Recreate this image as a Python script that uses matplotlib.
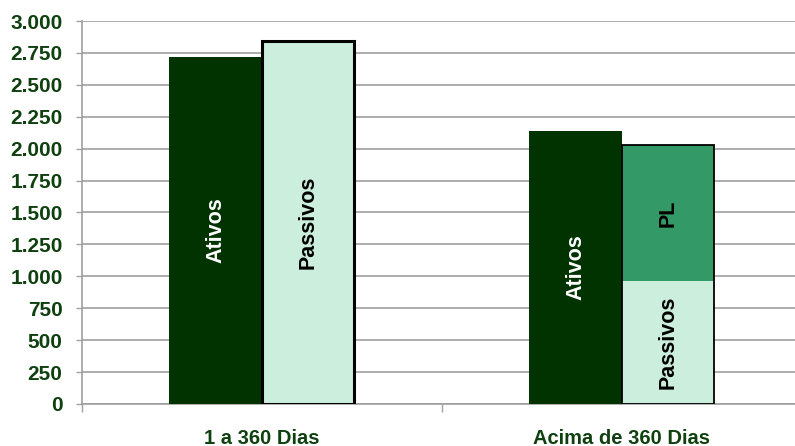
import numpy as np
import matplotlib
matplotlib.use("Agg")
import matplotlib.pyplot as plt
from matplotlib.ticker import FuncFormatter, FixedLocator

plt.rcParams['font.family'] = ['Liberation Sans', 'DejaVu Sans']
plt.rcParams['font.weight'] = 'bold'

# data
categories = ['1 a 360 Dias', 'Acima de 360 Dias']
ativos = [2720, 2140]
passivos = [2840, 960]
pl = [0, 1065]

dark = '#003300'
light = '#cceedd'
mid = '#339966'
label_color = '#0f400f'

fig = plt.figure(figsize=(7.95, 4.46), dpi=100)
ax = fig.add_axes([0.1031, 0.0942, 0.8969, 0.8587])

x = np.arange(len(categories))
w = 0.257
xa = x - w / 2
xp = x + w / 2

ax.bar(xa, ativos, width=w, color=dark, linewidth=0, zorder=3)
ax.bar(xp, passivos, width=w, color=light, linewidth=0, zorder=3)
ax.bar(xp, pl, width=w, bottom=passivos, color=mid, linewidth=0, zorder=3)

# outline around the right-hand (passivos + PL) columns
totals = [p + q for p, q in zip(passivos, pl)]
lws = [2.2, 1.3]
for i in range(len(categories)):
    ax.bar(xp[i], totals[i], width=w, fill=False, edgecolor='black',
           linewidth=lws[i], zorder=4)

# labels inside the bars
fs = 15.5
for i in range(len(categories)):
    ax.text(xa[i], ativos[i] / 2, 'Ativos', rotation=90, color='white',
            ha='center', va='center', fontsize=fs, fontweight='bold', zorder=5)
    ax.text(xp[i], passivos[i] / 2, 'Passivos', rotation=90, color='black',
            ha='center', va='center', fontsize=fs, fontweight='bold', zorder=5)
    if pl[i] > 0:
        ax.text(xp[i], passivos[i] + pl[i] / 2, 'PL', rotation=90, color='black',
                ha='center', va='center', fontsize=fs, fontweight='bold', zorder=5)

ax.set_ylim(0, 3000)
ax.set_xlim(-0.5, -0.5 + 0.8969 * 795 / 360)
ax.set_yticks(np.arange(0, 3001, 250))
ax.yaxis.set_major_formatter(FuncFormatter(lambda v, p: f"{v:,.0f}".replace(',', '.')))
ax.set_xticks(x)
ax.set_xticklabels(categories)
ax.xaxis.set_minor_locator(FixedLocator([-0.5, 0.5, 1.5]))

ax.grid(axis='y', color='#a0a0a0', linewidth=1.2, zorder=0)
ax.set_axisbelow(True)

for s in ['top', 'right']:
    ax.spines[s].set_visible(False)
for s in ['left', 'bottom']:
    ax.spines[s].set_color('#a0a0a0')
    ax.spines[s].set_linewidth(1.2)

ax.tick_params(axis='y', length=4, width=1, color='#a0a0a0', pad=10,
               labelsize=15, labelcolor=label_color)
ax.tick_params(axis='x', which='major', length=0, pad=18,
               labelsize=14.5, labelcolor=label_color)
ax.tick_params(axis='x', which='minor', length=6, width=1, color='#a0a0a0')
for lab in ax.get_xticklabels() + ax.get_yticklabels():
    lab.set_fontweight('bold')

fig.savefig('out.png', dpi=100)
